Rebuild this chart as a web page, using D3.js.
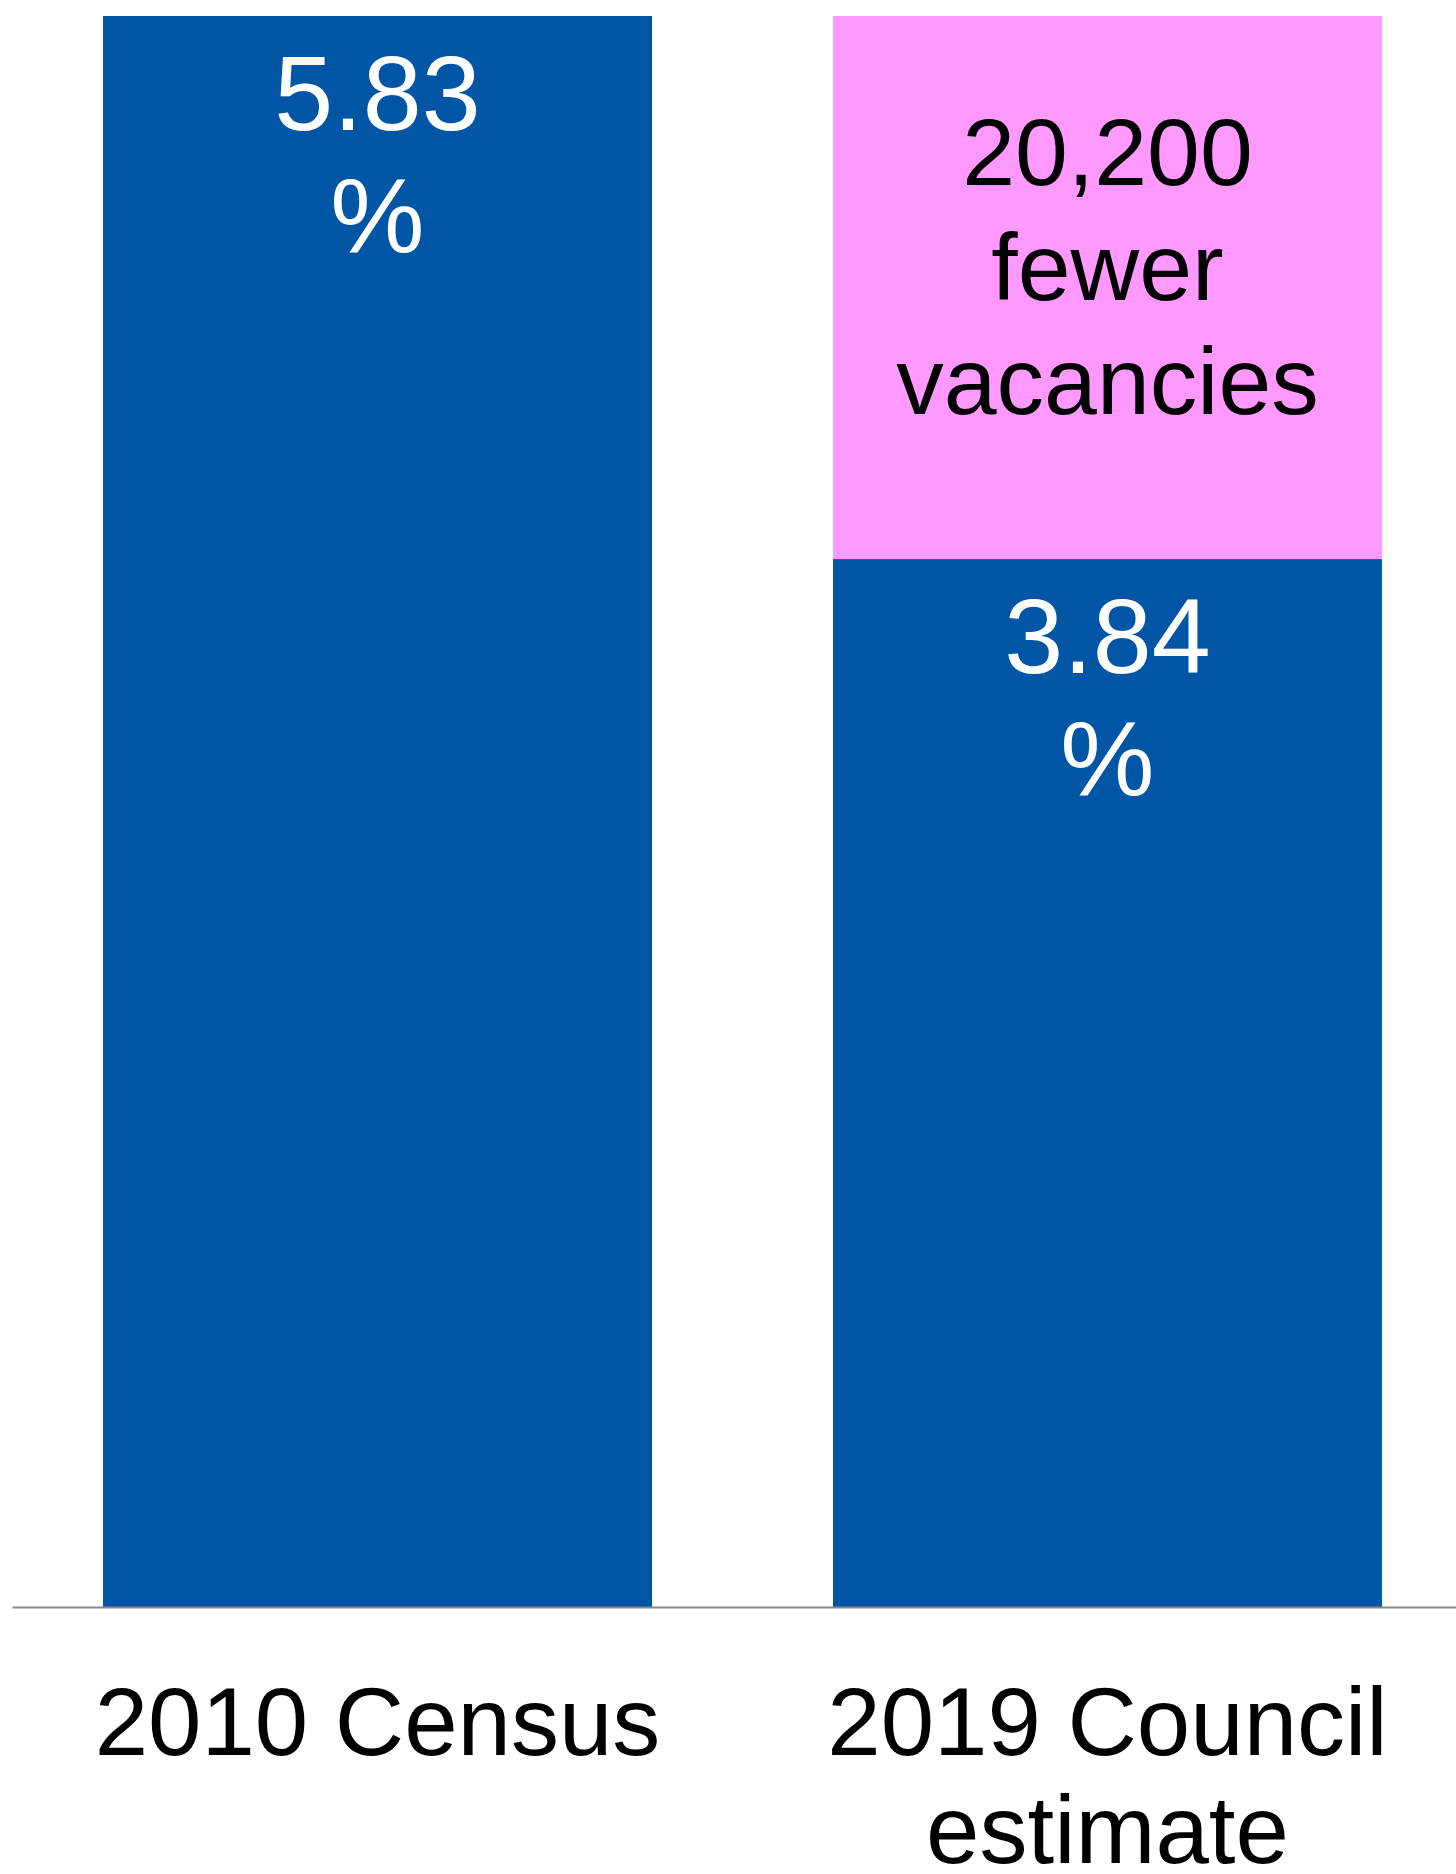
<!DOCTYPE html>
<html>
<head>
<meta charset="utf-8">
<script src="https://cdn.jsdelivr.net/npm/d3@7"></script>
<style>
  body { margin: 0; background: #fff; }
  svg text { font-family: "Liberation Sans", Arial, sans-serif; }
</style>
</head>
<body>
<svg id="chart"></svg>
<script>
"use strict";

// data
const categories = ["2010 Census", "2019 Council estimate"];
const categoryLines = [["2010 Census"], ["2019 Council", "estimate"]];
const vacancyRate = [5.83, 3.84];          // blue segment, %
const vacancyGap = [0, 1.99];              // pink segment, % (5.83 - 3.84)
const rateLabelLines = [["5.83", "%"], ["3.84", "%"]];
const gapLabelLines = ["20,200", "fewer", "vacancies"];

const BLUE = "#0055A5";
const PINK = "#FF99FF";

const width = 1456;
const height = 1874;

const svg = d3.select("#chart")
    .attr("width", width)
    .attr("height", height);

const rows = categories.map((c, i) => ({ cat: c, rate: vacancyRate[i], gap: vacancyGap[i] }));
const series = d3.stack().keys(["rate", "gap"])(rows);

const x = d3.scaleBand()
    .domain(categories)
    .range([12.5, 1472.5])
    .paddingInner(0.248)
    .paddingOuter(0.124);

const y = d3.scaleLinear()
    .domain([0, d3.max(rows, d => d.rate + d.gap)])
    .range([1607, 16]);

const colors = { rate: BLUE, gap: PINK };

// bars
svg.append("g").selectAll("g")
    .data(series)
    .join("g")
    .attr("fill", s => colors[s.key])
    .selectAll("rect")
    .data(s => s.filter(d => d[1] > d[0]))
    .join("rect")
    .attr("x", d => x(d.data.cat))
    .attr("width", x.bandwidth())
    .attr("y", d => y(d[1]))
    .attr("height", d => y(d[0]) - y(d[1]));

// baseline
svg.append("line")
    .attr("x1", x.range()[0])
    .attr("x2", width)
    .attr("y1", y(0) + 0.5)
    .attr("y2", y(0) + 0.5)
    .attr("stroke", "#888888")
    .attr("stroke-width", 2);

// rate labels, top of the blue segment
rows.forEach((r, i) => {
    const t = svg.append("text")
        .attr("text-anchor", "middle")
        .attr("fill", "#fff")
        .attr("font-size", 106);
    rateLabelLines[i].forEach((line, j) => {
        t.append("tspan")
            .attr("x", x(r.cat) + x.bandwidth() / 2)
            .attr("y", y(r.rate) + 114 + j * 122)
            .text(line);
    });
});

// gap label inside the pink segment
const gapRow = rows[1];
const gapMid = (y(gapRow.rate) + y(gapRow.rate + gapRow.gap)) / 2;
const gapText = svg.append("text")
    .attr("text-anchor", "middle")
    .attr("fill", "#000")
    .attr("font-size", 95);
gapLabelLines.forEach((line, j) => {
    gapText.append("tspan")
        .attr("x", x(gapRow.cat) + x.bandwidth() / 2)
        .attr("y", gapMid + 12 + (j - 1) * 114.5)
        .text(line);
});

// category labels
categories.forEach((c, i) => {
    const t = svg.append("text")
        .attr("text-anchor", "middle")
        .attr("fill", "#000")
        .attr("font-size", 96);
    categoryLines[i].forEach((line, j) => {
        t.append("tspan")
            .attr("x", x(c) + x.bandwidth() / 2)
            .attr("y", 1755 + j * 108)
            .text(line);
    });
});
</script>
</body>
</html>
